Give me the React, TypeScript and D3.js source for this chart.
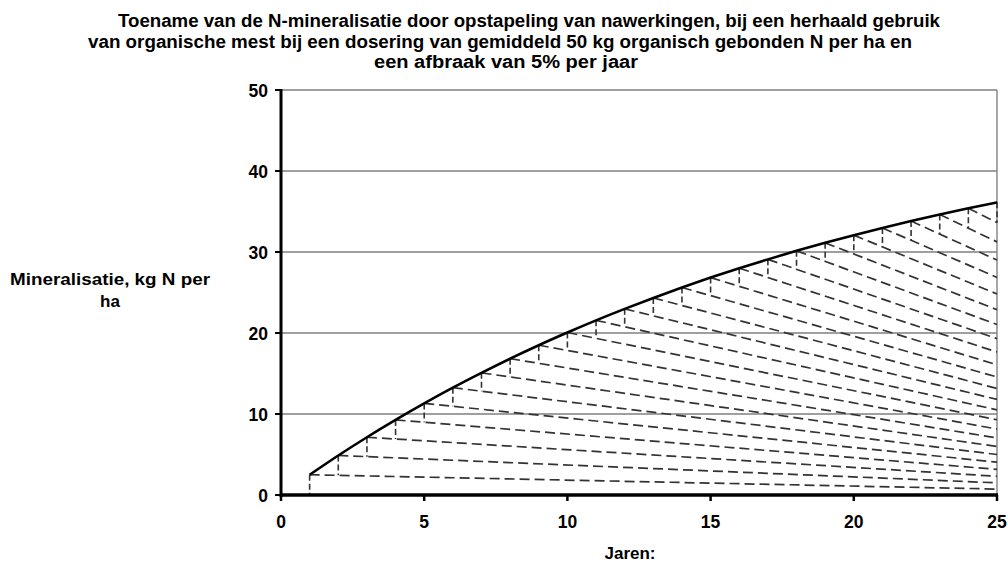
import React from "react";
import * as d3 from "d3";

const titleLines = [
  "Toename van de N-mineralisatie door opstapeling van nawerkingen, bij een herhaald gebruik",
  "van organische mest bij een dosering van gemiddeld 50 kg organisch gebonden N per ha en",
  "een afbraak van 5% per jaar",
];
const yTitleLines = ["Mineralisatie, kg N per", "ha"];
const xTitle = "Jaren:";

const years = [1, 2, 3, 4, 5, 6, 7, 8, 9, 10, 11, 12, 13, 14, 15, 16, 17, 18, 19, 20, 21, 22, 23, 24, 25];
// total mineralisation per year (solid curve)
const totals = [2.5, 4.88, 7.13, 9.27, 11.31, 13.25, 15.08, 16.83, 18.49, 20.06, 21.56, 22.98, 24.33, 25.62, 26.84, 28.0, 29.09, 30.14, 31.13, 32.08, 32.97, 33.82, 34.63, 35.4, 36.13];
// value of each year's carry-over line at year 25 (dashed lines)
const carryEnd = [0.73, 1.5, 2.31, 3.16, 4.05, 5.0, 5.99, 7.04, 8.14, 9.29, 10.51, 11.8, 13.15, 14.57, 16.07, 17.65, 19.3, 21.05, 22.88, 24.82, 26.86, 29.0, 31.25, 33.63];
const xTicks = [0, 5, 10, 15, 20, 25];
const yTicks = [0, 10, 20, 30, 40, 50];
const xDomain = [0, 25];
const yDomain = [0, 50];

export default function App() {
  const W = 1008, H = 562;
  const x = d3.scaleLinear().domain(xDomain).range([281, 997]);
  const y = d3.scaleLinear().domain(yDomain).range([495, 90]);
  const lastYear = years[years.length - 1];
  const curve = d3.line<number>().x((_, i) => x(years[i])).y((d) => y(d)).curve(d3.curveMonotoneX)(totals) || "";

  const carryAt = (i: number, t: number) => {
    const x0 = years[i], v0 = totals[i], v1 = carryEnd[i];
    return v0 + ((v1 - v0) * (t - x0)) / (lastYear - x0);
  };

  const font = "'Liberation Sans', Arial, sans-serif";
  const dashCol = "#333";

  return (
    <svg width={W} height={H} style={{ position: "absolute", left: 0, top: 0, background: "#fff" }} fontFamily={font}>
      <rect width={W} height={H} fill="#fff" />
      {titleLines.map((t, i) => (
        <text key={i} x={[529, 500, 506][i]} y={[27, 48, 68][i]} textAnchor="middle" fontWeight="bold" fontSize={17.5}
          textLength={[822, 824, 264][i]} lengthAdjust="spacingAndGlyphs">{t}</text>
      ))}
      {yTicks.filter((v) => v > 0).map((v) => (
        <line key={v} x1={x(0)} x2={x(25)} y1={y(v)} y2={y(v)} stroke="#7f7f7f" strokeWidth={1.5} />
      ))}
      <line x1={x(25)} x2={x(25)} y1={y(50)} y2={y(0)} stroke="#8a8a8a" strokeWidth={1.5} />
      {carryEnd.map((e, i) => (
        <line key={"c" + i} x1={x(years[i])} y1={y(totals[i])} x2={x(lastYear)} y2={y(e)}
          stroke={dashCol} strokeWidth={1.7} strokeDasharray="10,5" />
      ))}
      {years.map((yr, i) => {
        const bottom = i === 0 ? 0 : carryAt(i - 1, yr);
        return (
          <line key={"v" + i} x1={x(yr)} x2={x(yr)} y1={y(totals[i])} y2={y(bottom)}
            stroke={dashCol} strokeWidth={1.6} strokeDasharray="6,3" />
        );
      })}
      <path d={curve} fill="none" stroke="#000" strokeWidth={2.6} />
      <line x1={x(0)} x2={x(0)} y1={y(50) - 1} y2={y(0) + 2} stroke="#000" strokeWidth={3} />
      <line x1={x(0) - 1} x2={x(25) + 1} y1={y(0)} y2={y(0)} stroke="#000" strokeWidth={3.5} />
      {yTicks.map((v) => (
        <g key={"yt" + v}>
          <line x1={x(0) - 6} x2={x(0)} y1={y(v)} y2={y(v)} stroke="#000" strokeWidth={2} />
          <text x={268} y={y(v) + 6.5} textAnchor="end" fontWeight="bold" fontSize={17.5}>{v}</text>
        </g>
      ))}
      {xTicks.map((v) => (
        <g key={"xt" + v}>
          <line x1={x(v)} x2={x(v)} y1={y(0)} y2={y(0) + 6} stroke="#000" strokeWidth={2.5} />
          <text x={x(v)} y={528} textAnchor="middle" fontWeight="bold" fontSize={17.5}>{v}</text>
        </g>
      ))}
      <text x={630} y={559} textAnchor="middle" fontWeight="bold" fontSize={17}>{xTitle}</text>
      {yTitleLines.map((t, i) => (
        <text key={"yl" + i} x={110} y={285 + i * 22} textAnchor="middle" fontWeight="bold" fontSize={17}
          textLength={i === 0 ? 200 : undefined} lengthAdjust="spacingAndGlyphs">{t}</text>
      ))}
    </svg>
  );
}
